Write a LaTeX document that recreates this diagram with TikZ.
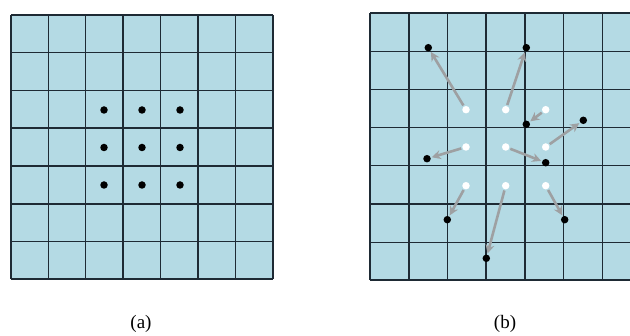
\documentclass[tikz,border=0pt]{standalone}
\usepackage{fontspec}
\setmainfont{Liberation Serif}
\usetikzlibrary{arrows.meta}
\definecolor{cellfill}{RGB}{180,218,228}
\definecolor{gridline}{RGB}{30,42,52}
\definecolor{arrowgray}{RGB}{158,160,162}
\begin{document}
\begin{tikzpicture}[x=1pt,y=-1pt,
  griddraw/.style={draw=gridline,line width=1.2pt},
  blackdot/.style={circle,fill=black,inner sep=0pt,minimum size=7.5pt},
  whitedot/.style={circle,fill=white,inner sep=0pt,minimum size=7.5pt},
  movearrow/.style={draw=arrowgray,line width=2.6pt,-{Stealth[length=9pt,width=9pt]},shorten >=1pt,shorten <=1pt},
  caption/.style={font=\fontsize{19}{22}\selectfont}]
\useasboundingbox (0,0) rectangle (630,336);
\clip (0,0) rectangle (630,336);
% left grid
\fill[cellfill] (11,15) rectangle (273,279);
\foreach \x in {11,48.5,85.5,123,160.5,198,235.5,273} \draw[griddraw] (\x,15) -- (\x,279);
\foreach \y in {15,52.7,90.5,128,166,204,241.5,279} \draw[griddraw] (11,\y) -- (273,\y);
\foreach \x [count=\i] in {104,142,180} {
  \foreach \y [count=\j] in {110,147.5,185} {
    \node[blackdot] (a\i\j) at (\x,\y) {};
  }
}
% right grid
\fill[cellfill] (370,13) rectangle (641,280);
\foreach \x in {370,409,447.3,486,525,563.7,602.3,641} \draw[griddraw] (\x,13) -- (\x,280);
\foreach \y in {13,51.7,89.5,127.7,165.7,204,242.3,280} \draw[griddraw] (370,\y) -- (641,\y);
% start positions
\foreach \x [count=\i] in {466,505.7,545.7} {
  \foreach \y [count=\j] in {109.7,147,185.7} {
    \node[whitedot] (s\i\j) at (\x,\y) {};
  }
}
% end positions
\node[blackdot] (e11) at (428.3,47.7) {};
\node[blackdot] (e21) at (526.3,47.7) {};
\node[blackdot] (e31) at (526.3,124.3) {};
\node[blackdot] (e12) at (427,158.7) {};
\node[blackdot] (e22) at (545.7,162.7) {};
\node[blackdot] (e32) at (583.3,120.3) {};
\node[blackdot] (e13) at (447.3,219.7) {};
\node[blackdot] (e23) at (486.3,258.3) {};
\node[blackdot] (e33) at (564.7,219.7) {};
\foreach \k in {11,21,31,12,22,32,13,23,33} \draw[movearrow] (s\k) -- (e\k);
% captions
\node[caption] (capa) at (141,324) {(a)};
\node[caption] (capb) at (505,324) {(b)};
\end{tikzpicture}
\end{document}
